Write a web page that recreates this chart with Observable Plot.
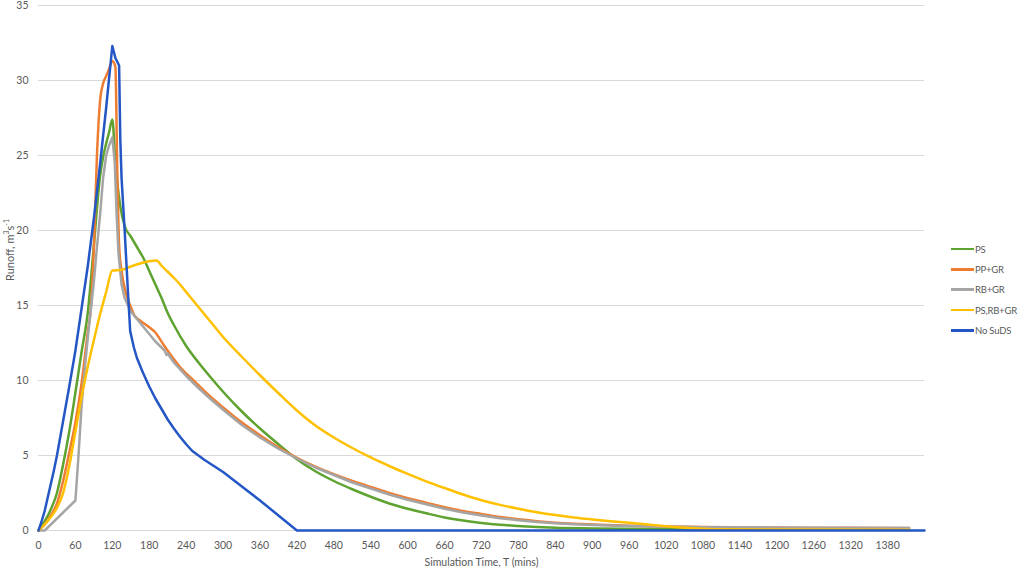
<!DOCTYPE html>
<html>
<head>
<meta charset="utf-8">
<script src="https://cdn.jsdelivr.net/npm/d3@7"></script>
<script src="https://cdn.jsdelivr.net/npm/@observablehq/plot@0.6"></script>
<style>
  html, body { margin: 0; padding: 0; background: #fff; }
  #wrap { position: relative; width: 1020px; height: 570px; font-family: "Lato", "Liberation Sans", sans-serif; }
  #legend { position: absolute; left: 951px; top: 239px; font-size: 9.5px; letter-spacing: -0.2px; color: #595959; }
  #legend .item { display: flex; align-items: center; height: 20.3px; }
  #legend .sw { width: 23px; height: 2.5px; margin-right: 1px; }
  #ylab { position: absolute; left: 9px; top: 250px; transform: translate(-50%, -50%) rotate(-90deg); font-size: 11px; color: #595959; white-space: nowrap; }
</style>
</head>
<body>
<div id="wrap"><div id="chart"></div><div id="legend"></div><div id="ylab">Runoff, m<sup style="font-size:7px">3</sup>s<sup style="font-size:7px">-1</sup></div></div>
<script>
// Series names and colours
const seriesNames = ["PS", "PP+GR", "RB+GR", "PS,RB+GR", "No SuDS"];
const seriesColors = ["#5EA22F", "#ED7D31", "#A5A5A5", "#FFC000", "#2457C5"];
const seriesCurves = ["monotone-x", "monotone-x", "linear", "monotone-x", "linear"];

// PS
const psT = [0,10,20,30,40,50,60,70,80,90,100,105,110,115,120,125,128,133,140,150,160,165,170,180,190,200,210,220,240,260,280,300,330,360,390,420,450,480,510,540,570,600,630,660,690,720,750,780,810,840,900,960,1080,1200,1415];
const psV = [0,0.6,1.4,2.5,4.4,6.6,9.2,11.9,14.5,19.0,23.6,24.9,25.8,26.6,27.4,24.5,23.2,21.6,20.3,19.6,18.9,18.55,18.2,17.3,16.4,15.5,14.5,13.7,12.3,11.2,10.2,9.25,7.95,6.8,5.75,4.75,3.95,3.3,2.75,2.25,1.8,1.45,1.15,0.87,0.66,0.5,0.38,0.3,0.23,0.18,0.14,0.11,0.09,0.08,0.07];

// PP+GR
const ppT = [0,10,20,30,40,50,60,70,80,85,90,95,100,105,110,115,120,125,128,131,135,141,150,155,165,180,190,203,215,230,252,280,300,323,360,390,420,450,480,510,540,570,600,630,660,690,720,750,780,810,840,870,900,960,1020,1080,1200,1320,1415];
const ppV = [0,0.4,1.0,1.8,3.3,5.2,7.2,9.8,13.2,14.8,18.8,25.0,28.6,29.8,30.3,30.8,31.3,30.9,24.0,19.0,17.3,16.0,14.9,14.4,14.0,13.55,13.2,12.4,11.7,10.9,10.0,8.9,8.2,7.44,6.35,5.55,4.85,4.25,3.75,3.3,2.9,2.5,2.15,1.85,1.55,1.3,1.1,0.9,0.75,0.62,0.52,0.45,0.4,0.32,0.27,0.24,0.2,0.18,0.17];

// RB+GR
const rbT = [0,10,60,65,70,75,80,85,90,95,100,105,110,115,120,124,127,130,135,140,150,160,170,180,190,200,205,208,210,220,240,260,280,300,330,360,390,420,450,480,510,540,570,600,630,660,690,720,750,780,810,840,870,900,960,1020,1080,1200,1320,1415];
const rbV = [0,0,2.0,5.0,8.3,10.7,12.8,14.7,16.6,18.9,21.0,23.5,25.0,25.7,26.2,24.5,21.0,18.5,16.4,15.5,14.6,14.1,13.6,13.1,12.6,12.2,12.0,11.7,11.8,11.2,10.3,9.5,8.75,8.05,7.05,6.2,5.45,4.8,4.2,3.7,3.2,2.8,2.4,2.05,1.75,1.45,1.2,1.0,0.82,0.68,0.57,0.48,0.41,0.36,0.3,0.26,0.22,0.19,0.17,0.16];

// PS,RB+GR
const psrbT = [0,10,20,30,40,50,60,70,80,90,100,110,120,135,150,165,180,192,200,210,220,230,240,260,280,300,330,360,390,420,450,480,510,540,570,600,630,660,690,720,750,780,810,840,870,900,930,960,990,1020,1050,1080,1110,1200,1415];
const psrbV = [0,0.4,0.9,1.5,2.5,4.3,6.6,8.9,10.9,12.7,14.4,15.9,17.33,17.38,17.6,17.8,17.95,18.0,17.65,17.25,16.85,16.4,15.9,14.9,13.9,12.9,11.6,10.35,9.15,8.0,7.0,6.2,5.5,4.87,4.3,3.77,3.28,2.83,2.4,2.02,1.71,1.45,1.22,1.03,0.87,0.74,0.62,0.51,0.4,0.29,0.19,0.12,0.08,0.06,0.05];

// No SuDS
const noT = [0,5,10,15,20,25,30,40,50,60,70,80,90,100,110,120,125,131,133,135,140,145,149,155,160,170,180,190,200,210,220,230,240,250,270,300,330,360,390,420,1440];
const noV = [0,0.6,1.3,2.2,3.1,4.0,5.0,7.3,9.6,12.0,14.8,17.6,20.8,24.4,28.2,32.3,31.5,31.0,26.0,23.5,20.0,16.2,13.3,12.2,11.5,10.5,9.6,8.8,8.1,7.4,6.8,6.25,5.75,5.3,4.7,3.9,2.95,2.0,1.0,0,0];

// Axis ticks
const xTicks = d3.range(0, 1440, 60);
const yTicks = [0, 5, 10, 15, 20, 25, 30, 35];

const allT = [psT, ppT, rbT, psrbT, noT];
const allV = [psV, ppV, rbV, psrbV, noV];
const tables = seriesNames.map((name, i) => allT[i].map((t, j) => ({series: name, t, v: allV[i][j]})));

const chart = Plot.plot({
  width: 1020,
  height: 570,
  marginLeft: 38,
  marginRight: 96,
  marginTop: 5,
  marginBottom: 40,
  style: {fontFamily: "Lato, 'Liberation Sans', sans-serif", fontSize: "10.5px", color: "#595959", background: "#fff"},
  x: {domain: [0, 1440]},
  y: {domain: [0, 35]},
  color: {domain: seriesNames, range: seriesColors},
  marks: [
    Plot.gridY(yTicks, {stroke: "#d9d9d9", strokeOpacity: 1, strokeWidth: 1}),
    Plot.axisY(yTicks, {tickSize: 0, tickPadding: 10, label: null, fontSize: 10.5}),
    Plot.axisX(xTicks, {tickSize: 0, tickPadding: 11, tickFormat: d => String(d), label: "Simulation Time, T (mins)", labelAnchor: "center", labelArrow: "none", labelOffset: 35, fontSize: 10.5}),
    ...tables.map((tb, i) => Plot.line(tb, {x: "t", y: "v", stroke: "series", strokeWidth: 2.5, strokeLinejoin: "round", curve: seriesCurves[i]}))
  ]
});
document.getElementById("chart").appendChild(chart);

const legend = document.getElementById("legend");
seriesNames.forEach((n, i) => {
  const it = document.createElement("div");
  it.className = "item";
  it.innerHTML = `<span class="sw" style="background:${seriesColors[i]}"></span><span>${n}</span>`;
  legend.appendChild(it);
});
</script>
</body>
</html>
